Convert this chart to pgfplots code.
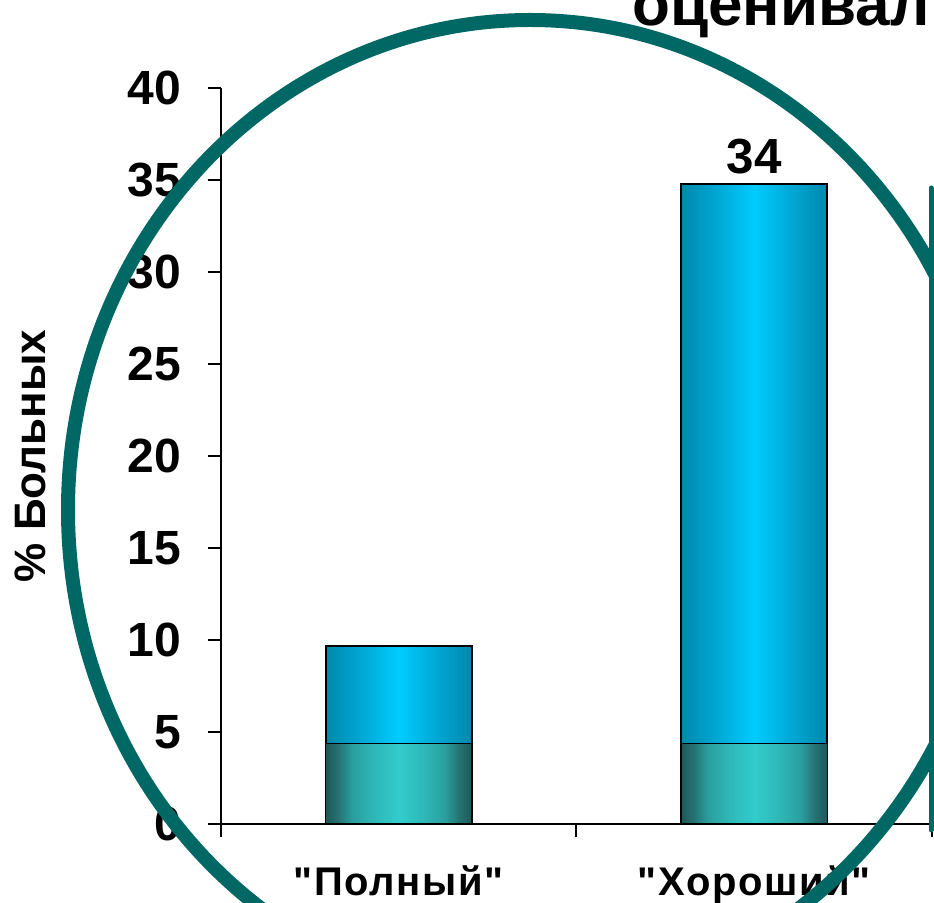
\documentclass[border=0pt]{standalone}
\usepackage{fontspec}
\setmainfont{Liberation Sans}[Ligatures=TeXOff]
\newfontfamily\catfont{Liberation Sans}[Ligatures=TeXOff, LetterSpace=4]
\usepackage{pgfplots}
\pgfplotsset{compat=1.18}
\definecolor{ringteal}{RGB}{0,104,100}
\definecolor{bEdge}{RGB}{0,136,172}
\definecolor{bMid}{RGB}{0,170,215}
\definecolor{bLight}{RGB}{0,204,255}
\definecolor{tEdge}{RGB}{30,88,88}
\definecolor{tMid1}{RGB}{38,112,112}
\definecolor{tMid2}{RGB}{42,158,158}
\definecolor{tMid3}{RGB}{46,182,182}
\definecolor{tLight}{RGB}{51,204,204}
\pgfdeclarehorizontalshading{bluebar}{100bp}{color(0bp)=(bEdge); color(25bp)=(bEdge); color(38bp)=(bMid); color(50bp)=(bLight); color(62bp)=(bMid); color(75bp)=(bEdge); color(100bp)=(bEdge)}
\pgfdeclarehorizontalshading{tealbar}{100bp}{color(0bp)=(tEdge); color(25bp)=(tEdge); color(29bp)=(tMid1); color(34bp)=(tMid2); color(41bp)=(tMid3); color(50bp)=(tLight); color(59bp)=(tMid3); color(66bp)=(tMid2); color(71bp)=(tMid1); color(75bp)=(tEdge); color(100bp)=(tEdge)}
\begin{document}
\begin{tikzpicture}
\begin{scope}
\clip (0,0) rectangle (700.5pt,676.5pt);
\begin{axis}[
  at={(165.75pt,58.5pt)}, anchor=south west,
  scale only axis,
  width=559.9pt, height=552pt,
  xmin=-0.5, xmax=1.6, ymin=0, ymax=40,
  axis x line*=bottom, axis y line*=left,
  axis line style={line width=1.5pt, black},
  ybar, bar shift=0pt, bar width=0.41,
  ytick={0,5,...,40},
  xtick={-0.5,0.5,1.5}, xticklabels={},
  extra x ticks={0,1},
  extra x tick labels={"Полный","Хороший"},
  extra x tick style={major tick length=0pt, xticklabel style={anchor=base, inner sep=0pt, yshift=-53.25pt}},
  tick align=outside,
  major tick length=10pt,
  tick style={line width=1.5pt, black},
  /pgf/number format/assume math mode=true,
  yticklabel style={font=\bfseries\fontsize{36}{36}\selectfont, anchor=east, inner sep=0pt, xshift=-20pt},
  xticklabel style={font=\catfont\bfseries\fontsize{30}{30}\selectfont},
  ylabel={\% Больных},
  ylabel style={font=\bfseries\fontsize{33}{33}\selectfont, at={(axis description cs:-0.2558,0.5)}, anchor=center},
  clip=false,
]
% total height of each bar (blue top part)
\addplot[draw=black, line width=1.6pt, shading=bluebar] coordinates {(0,9.67)};
\addplot[draw=black, line width=1.6pt, shading=bluebar,
  point meta=explicit symbolic,
  nodes near coords={\pgfplotspointmeta},
  every node near coord/.append style={font=\bfseries\fontsize{37}{37}\selectfont, inner sep=0pt, anchor=south, yshift=6.5pt, black}]
  coordinates {(1,34.78) [34]};
% lower (teal) part
\addplot[draw=black, line width=0.8pt, shading=tealbar] coordinates {(0,4.35)};
\addplot[draw=black, line width=0.8pt, shading=tealbar] coordinates {(1,4.35)};
\end{axis}
\draw[ringteal, line width=10.5pt] (397.5pt,294pt) ellipse [x radius=346.5pt, y radius=367.5pt];
\draw[ringteal, line width=3.75pt, line cap=round] (698.25pt,535.5pt) -- (698.25pt,54pt);
\node[anchor=base west, inner sep=0pt, font=\bfseries\fontsize{46.5}{46.5}\selectfont] at (474pt,657pt) {оценивал};
\end{scope}
\pgfresetboundingbox
\useasboundingbox (0,0) rectangle (700.5pt,676.5pt);
\end{tikzpicture}
\end{document}
